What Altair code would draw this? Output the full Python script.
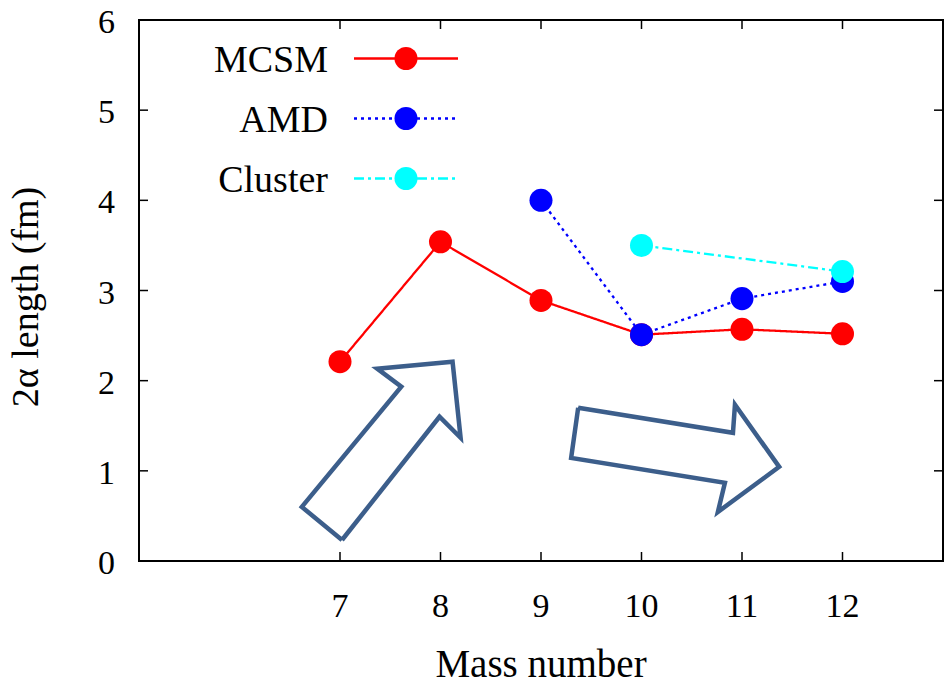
import altair as alt
import pandas as pd

# ---- data ----
mcsm_x = [7, 8, 9, 10, 11, 12]
mcsm_y = [2.21, 3.54, 2.89, 2.51, 2.57, 2.52]
amd_x = [9, 10, 11, 12]
amd_y = [4.0, 2.51, 2.91, 3.10]
cluster_x = [10, 12]
cluster_y = [3.50, 3.21]

series_names = ["MCSM", "AMD", "Cluster"]
series_colors = ["#ff0000", "#0000ff", "#00ffff"]
series_dash = [[1, 0], [3, 4], [10, 4, 3, 4]]

x_ticks = [7, 8, 9, 10, 11, 12]
y_ticks = [0, 1, 2, 3, 4, 5, 6]
x_title = ["Mass number"]
y_title = ["2\u03b1 length (fm)"]

# decorative arrows (data units)
arrow1_x = [7.02, 6.62, 7.61, 7.37, 8.12, 8.20, 7.99, 7.02]
arrow1_y = [0.233, 0.60, 1.933, 2.133, 2.211, 1.367, 1.60, 0.233]
arrow2_x = [9.37, 10.91, 10.93, 11.37, 10.76, 10.83, 9.30, 9.37]
arrow2_y = [1.70, 1.422, 1.733, 1.044, 0.544, 0.867, 1.144, 1.70]

W, H = 804, 541
FONT = "'Liberation Serif', Tinos, 'Times New Roman', Times, 'DejaVu Serif', serif"

xs = alt.Scale(domain=[5, 13], nice=False, zero=False)
ys = alt.Scale(domain=[0, 6], nice=False, zero=False)


def X(f="x:Q"):
    return alt.X(f, scale=xs, axis=None)


def Y(f="y:Q"):
    return alt.Y(f, scale=ys, axis=None)


layers = []

# inward ticks (mirrored on all four sides)
xt = pd.DataFrame({"x": x_ticks})
yt = pd.DataFrame({"y": y_ticks})
layers.append(alt.Chart(xt).mark_rule(color="black", strokeWidth=1.5).encode(
    x=X(), y=alt.value(H), y2=alt.value(H - 9)))
layers.append(alt.Chart(xt).mark_rule(color="black", strokeWidth=1.5).encode(
    x=X(), y=alt.value(0), y2=alt.value(9)))
layers.append(alt.Chart(yt).mark_rule(color="black", strokeWidth=1.5).encode(
    y=Y(), x=alt.value(0), x2=alt.value(9)))
layers.append(alt.Chart(yt).mark_rule(color="black", strokeWidth=1.5).encode(
    y=Y(), x=alt.value(W), x2=alt.value(W - 9)))

# tick labels
layers.append(alt.Chart(xt).mark_text(font=FONT, fontSize=34, color="black",
                                      align="center", baseline="alphabetic").encode(
    x=X(), y=alt.value(H + 56), text=alt.Text("x:Q", format="d")))
layers.append(alt.Chart(yt).mark_text(font=FONT, fontSize=34, color="black",
                                      align="right", baseline="middle", dy=3).encode(
    y=Y(), x=alt.value(-24), text=alt.Text("y:Q", format="d")))

# axis titles
layers.append(alt.Chart(pd.DataFrame({"t": x_title})).mark_text(
    font=FONT, fontSize=39, color="black", align="center", baseline="alphabetic").encode(
    x=alt.value(W / 2), y=alt.value(H + 116), text="t:N"))
layers.append(alt.Chart(pd.DataFrame({"t": y_title})).mark_text(
    font=FONT, fontSize=38, color="black", align="center", baseline="middle",
    angle=270).encode(
    x=alt.value(-112), y=alt.value(277), text="t:N"))

# arrows
for ax, ay in [(arrow1_x, arrow1_y), (arrow2_x, arrow2_y)]:
    df = pd.DataFrame({"x": ax, "y": ay, "o": list(range(len(ax)))})
    layers.append(alt.Chart(df).mark_line(color="#3c5e8b", strokeWidth=4.5,
                                          strokeJoin="miter").encode(
        x=X(), y=Y(), order="o:Q"))

# series
series = [(mcsm_x, mcsm_y), (amd_x, amd_y), (cluster_x, cluster_y)]
for i, (sx, sy) in enumerate(series):
    df = pd.DataFrame({"x": sx, "y": sy})
    layers.append(alt.Chart(df).mark_line(color=series_colors[i], strokeWidth=2.3,
                                          strokeDash=series_dash[i]).encode(
        x=X(), y=Y()))
    layers.append(alt.Chart(df).mark_point(filled=True, opacity=1, size=530,
                                           color=series_colors[i]).encode(
        x=X(), y=Y()))

# legend
for i, name in enumerate(series_names):
    df = pd.DataFrame({"label": [name]})
    base = alt.Chart(df)
    layers.append(base.mark_text(align="right", baseline="alphabetic", font=FONT,
                                 fontSize=38, color="black").encode(
        text="label:N", x=alt.value(189), y=alt.value(52 + 60 * i)))
    layers.append(base.mark_rule(color=series_colors[i], strokeWidth=2.3,
                                 strokeDash=series_dash[i]).encode(
        x=alt.value(215), x2=alt.value(319), y=alt.value(38.5 + 60 * i)))
    layers.append(base.mark_point(filled=True, opacity=1, size=530,
                                  color=series_colors[i]).encode(
        x=alt.value(267), y=alt.value(38.5 + 60 * i)))

chart = alt.layer(*layers).properties(
    width=W, height=H,
    autosize=alt.AutoSizeParams(type="none"),
    padding={"left": 139, "top": 20, "right": 8, "bottom": 124},
    background="white",
).configure_view(stroke="black", strokeWidth=2)

chart.save("out.html", embed_options={"renderer": "svg", "actions": False})
